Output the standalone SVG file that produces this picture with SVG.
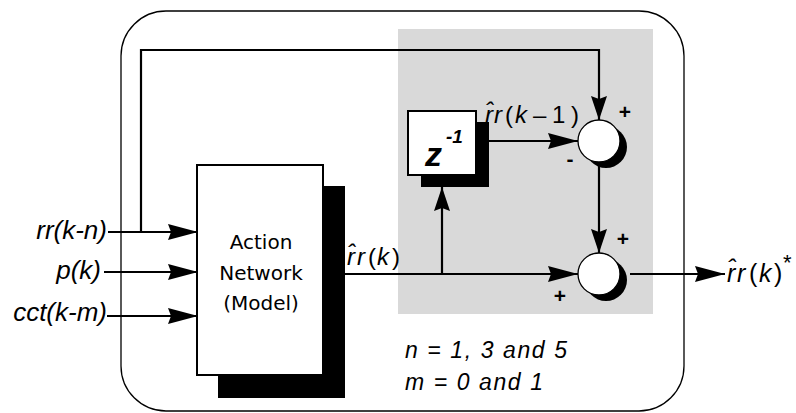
<svg xmlns="http://www.w3.org/2000/svg" width="796" height="413" viewBox="0 0 796 413">
<style>
.ln{stroke:#000;stroke-width:2.2;fill:none}
.lbl{font-family:"Liberation Sans",Arial,sans-serif;font-style:italic;fill:#000}
.up{font-family:"Liberation Sans",Arial,sans-serif;font-style:normal;fill:#000}
.sign{font-family:"Liberation Sans",Arial,sans-serif;font-weight:bold;font-size:21px;fill:#000;text-anchor:middle}
.act{font-family:"DejaVu Sans","Liberation Sans",sans-serif;font-size:20px;fill:#000;text-anchor:middle}
</style>
<defs>
<marker id="ah" viewBox="0 0 30 18" markerWidth="30" markerHeight="18" refX="30" refY="9" orient="auto" markerUnits="userSpaceOnUse">
<path d="M0,1 L30,9 L0,17 L3,9 Z" fill="#000"/>
</marker>
<marker id="ahs" viewBox="0 0 24 18" markerWidth="24" markerHeight="18" refX="24" refY="9" orient="auto" markerUnits="userSpaceOnUse">
<path d="M0,1 L24,9 L0,17 L3,9 Z" fill="#000"/>
</marker>
</defs>
<rect width="796" height="413" fill="#fff"/>
<g id="frame">
<rect x="121" y="11" width="563" height="400" rx="45" ry="45" fill="#fff" stroke="#000" stroke-width="1.3"/>
<rect x="398" y="29" width="255" height="285" fill="#d9d9d9"/>
</g>
<g id="connectors">
<line class="ln" x1="108" y1="232" x2="198" y2="232" marker-end="url(#ah)"/>
<line class="ln" x1="104" y1="272" x2="198" y2="272" marker-end="url(#ah)"/>
<line class="ln" x1="107" y1="316" x2="198" y2="316" marker-end="url(#ah)"/>
<polyline class="ln" points="141,232 141,50 599,50 599,120" marker-end="url(#ahs)"/>
<line class="ln" x1="345" y1="274" x2="578" y2="274" marker-end="url(#ah)"/>
<line class="ln" x1="442" y1="274" x2="442" y2="187" marker-end="url(#ahs)"/>
<line class="ln" x1="489" y1="141" x2="578" y2="141" marker-end="url(#ah)"/>
<line class="ln" x1="599" y1="162" x2="599" y2="253" marker-end="url(#ahs)"/>
<line class="ln" x1="630" y1="274" x2="725" y2="274" marker-end="url(#ah)"/>
</g>
<g id="action-network">
<rect x="218" y="186" width="127" height="212" fill="#000"/>
<rect x="197" y="165" width="126" height="210" fill="#fff" stroke="#000" stroke-width="2"/>
<text class="act" x="261" y="249">Action</text>
<text class="act" x="261" y="280">Network</text>
<text class="act" x="261" y="310">(Model)</text>
</g>
<g id="delay">
<rect x="421" y="122" width="68" height="65" fill="#000"/>
<rect x="408" y="111" width="68" height="64" fill="#fff" stroke="#000" stroke-width="2"/>
<text class="lbl" x="425" y="166" font-size="34" font-weight="bold">z</text>
<text class="lbl" x="446" y="143" font-size="19" font-weight="bold">-1</text>
</g>
<g id="sum1">
<circle cx="606" cy="147" r="21" fill="#000"/>
<circle cx="599" cy="141" r="21" fill="#fff" stroke="#000" stroke-width="1.3"/>
<text class="sign" x="625" y="119">+</text>
<text class="sign" x="570" y="166">-</text>
</g>
<g id="sum2">
<circle cx="606" cy="280" r="21" fill="#000"/>
<circle cx="599" cy="274" r="21" fill="#fff" stroke="#000" stroke-width="1.3"/>
<text class="sign" x="623" y="246">+</text>
<text class="sign" x="560" y="303">+</text>
</g>
<g id="labels">
<text class="lbl" x="107" y="239" font-size="26" text-anchor="end">rr(k-n)</text>
<text class="lbl" x="101" y="279" font-size="26" text-anchor="end">p(k)</text>
<text class="lbl" x="107" y="321" font-size="26" text-anchor="end">cct(k-m)</text>

<text class="lbl" font-size="24" y="265"><tspan x="347">r̂</tspan><tspan x="357">r</tspan><tspan class="up" x="368">(</tspan><tspan x="377">k</tspan><tspan class="up" x="392">)</tspan></text>

<text class="lbl" font-size="24" y="123"><tspan x="485">r̂</tspan><tspan x="494">r</tspan><tspan class="up" x="505">(</tspan><tspan x="515">k</tspan><tspan class="up" x="533">–</tspan><tspan class="up" x="552">1</tspan><tspan class="up" x="571">)</tspan></text>

<text class="lbl" font-size="25" y="282"><tspan x="727">r̂</tspan><tspan x="737">r</tspan><tspan class="up" x="749">(</tspan><tspan x="759">k</tspan><tspan class="up" x="774">)</tspan><tspan class="up" x="783" dy="-12" font-size="22">*</tspan></text>

<text class="lbl" x="405" y="358" font-size="23" textLength="162">n = 1, 3 and 5</text>
<text class="lbl" x="405" y="390" font-size="23" textLength="138">m = 0 and 1</text>
</g>
</svg>
